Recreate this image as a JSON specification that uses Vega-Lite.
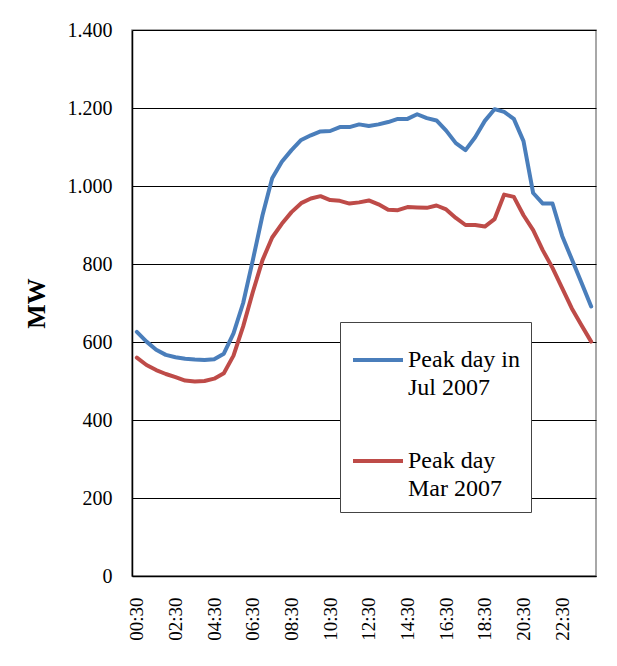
{
  "$schema": "https://vega.github.io/schema/vega-lite/v6.json",
  "autosize": {"type": "none"},
  "width": 464,
  "height": 546,
  "padding": {"left": 132, "top": 30, "right": 21, "bottom": 90},
  "background": "white",
  "config": {
    "view": {"stroke": "#8c8c8c", "strokeWidth": 1.5},
    "font": "Liberation Serif"
  },
  "data": {
    "values": [
      {"t": "00:30", "Peak day in|Jul 2007": 626, "Peak day|Mar 2007": 560},
      {"t": "01:00", "Peak day in|Jul 2007": 601, "Peak day|Mar 2007": 541},
      {"t": "01:30", "Peak day in|Jul 2007": 580, "Peak day|Mar 2007": 528},
      {"t": "02:00", "Peak day in|Jul 2007": 567, "Peak day|Mar 2007": 518},
      {"t": "02:30", "Peak day in|Jul 2007": 561, "Peak day|Mar 2007": 510},
      {"t": "03:00", "Peak day in|Jul 2007": 557, "Peak day|Mar 2007": 501},
      {"t": "03:30", "Peak day in|Jul 2007": 555, "Peak day|Mar 2007": 499},
      {"t": "04:00", "Peak day in|Jul 2007": 554, "Peak day|Mar 2007": 500},
      {"t": "04:30", "Peak day in|Jul 2007": 556, "Peak day|Mar 2007": 506},
      {"t": "05:00", "Peak day in|Jul 2007": 570, "Peak day|Mar 2007": 520},
      {"t": "05:30", "Peak day in|Jul 2007": 622, "Peak day|Mar 2007": 565},
      {"t": "06:00", "Peak day in|Jul 2007": 700, "Peak day|Mar 2007": 640},
      {"t": "06:30", "Peak day in|Jul 2007": 810, "Peak day|Mar 2007": 728},
      {"t": "07:00", "Peak day in|Jul 2007": 925, "Peak day|Mar 2007": 810},
      {"t": "07:30", "Peak day in|Jul 2007": 1020, "Peak day|Mar 2007": 868},
      {"t": "08:00", "Peak day in|Jul 2007": 1062, "Peak day|Mar 2007": 903},
      {"t": "08:30", "Peak day in|Jul 2007": 1092, "Peak day|Mar 2007": 933},
      {"t": "09:00", "Peak day in|Jul 2007": 1118, "Peak day|Mar 2007": 956},
      {"t": "09:30", "Peak day in|Jul 2007": 1130, "Peak day|Mar 2007": 968},
      {"t": "10:00", "Peak day in|Jul 2007": 1140, "Peak day|Mar 2007": 974},
      {"t": "10:30", "Peak day in|Jul 2007": 1141, "Peak day|Mar 2007": 964},
      {"t": "11:00", "Peak day in|Jul 2007": 1151, "Peak day|Mar 2007": 962},
      {"t": "11:30", "Peak day in|Jul 2007": 1151, "Peak day|Mar 2007": 955},
      {"t": "12:00", "Peak day in|Jul 2007": 1158, "Peak day|Mar 2007": 958},
      {"t": "12:30", "Peak day in|Jul 2007": 1154, "Peak day|Mar 2007": 963},
      {"t": "13:00", "Peak day in|Jul 2007": 1158, "Peak day|Mar 2007": 953},
      {"t": "13:30", "Peak day in|Jul 2007": 1164, "Peak day|Mar 2007": 939},
      {"t": "14:00", "Peak day in|Jul 2007": 1172, "Peak day|Mar 2007": 938},
      {"t": "14:30", "Peak day in|Jul 2007": 1172, "Peak day|Mar 2007": 946},
      {"t": "15:00", "Peak day in|Jul 2007": 1184, "Peak day|Mar 2007": 945},
      {"t": "15:30", "Peak day in|Jul 2007": 1174, "Peak day|Mar 2007": 944},
      {"t": "16:00", "Peak day in|Jul 2007": 1168, "Peak day|Mar 2007": 950},
      {"t": "16:30", "Peak day in|Jul 2007": 1142, "Peak day|Mar 2007": 940},
      {"t": "17:00", "Peak day in|Jul 2007": 1110, "Peak day|Mar 2007": 918},
      {"t": "17:30", "Peak day in|Jul 2007": 1092, "Peak day|Mar 2007": 900},
      {"t": "18:00", "Peak day in|Jul 2007": 1125, "Peak day|Mar 2007": 900},
      {"t": "18:30", "Peak day in|Jul 2007": 1167, "Peak day|Mar 2007": 896},
      {"t": "19:00", "Peak day in|Jul 2007": 1197, "Peak day|Mar 2007": 915},
      {"t": "19:30", "Peak day in|Jul 2007": 1190, "Peak day|Mar 2007": 978},
      {"t": "20:00", "Peak day in|Jul 2007": 1172, "Peak day|Mar 2007": 972},
      {"t": "20:30", "Peak day in|Jul 2007": 1115, "Peak day|Mar 2007": 925},
      {"t": "21:00", "Peak day in|Jul 2007": 982, "Peak day|Mar 2007": 887},
      {"t": "21:30", "Peak day in|Jul 2007": 955, "Peak day|Mar 2007": 835},
      {"t": "22:00", "Peak day in|Jul 2007": 955, "Peak day|Mar 2007": 790},
      {"t": "22:30", "Peak day in|Jul 2007": 872, "Peak day|Mar 2007": 738},
      {"t": "23:00", "Peak day in|Jul 2007": 812, "Peak day|Mar 2007": 686},
      {"t": "23:30", "Peak day in|Jul 2007": 752, "Peak day|Mar 2007": 643},
      {"t": "24:00", "Peak day in|Jul 2007": 691, "Peak day|Mar 2007": 601}
    ]
  },
  "transform": [
    {"fold": ["Peak day in|Jul 2007", "Peak day|Mar 2007"], "as": ["series", "mw"]}
  ],
  "mark": {"type": "line", "strokeWidth": 4, "strokeCap": "round", "strokeJoin": "round"},
  "encoding": {
    "x": {
      "field": "t",
      "type": "ordinal",
      "sort": null,
      "scale": {"type": "point", "padding": 0.5},
      "axis": {
        "title": null,
        "values": ["00:30", "02:30", "04:30", "06:30", "08:30", "10:30", "12:30", "14:30", "16:30", "18:30", "20:30", "22:30"],
        "labelAngle": -90,
        "labelFont": "Liberation Serif",
        "labelFontSize": 19,
        "labelColor": "#000000",
        "labelPadding": 21,
        "ticks": false,
        "grid": false,
        "domain": true,
        "domainColor": "#000000",
        "domainWidth": 1.5
      }
    },
    "y": {
      "field": "mw",
      "type": "quantitative",
      "scale": {"domain": [0, 1400], "nice": false},
      "axis": {
        "title": "MW",
        "titleFont": "Liberation Serif",
        "titleFontSize": 26,
        "titleFontWeight": "bold",
        "titleColor": "#000000",
        "titleX": -96,
        "titleBaseline": "middle",
        "titleAlign": "center",
        "values": [0, 200, 400, 600, 800, 1000, 1200, 1400],
        "labelExpr": "replace(format(datum.value, ','), ',', '.')",
        "labelFont": "Liberation Serif",
        "labelFontSize": 20,
        "labelColor": "#000000",
        "labelPadding": 20,
        "ticks": false,
        "grid": true,
        "gridColor": "#000000",
        "gridWidth": 1,
        "gridOpacity": 1,
        "domain": true,
        "domainColor": "#000000",
        "domainWidth": 1.5
      }
    },
    "color": {
      "field": "series",
      "type": "nominal",
      "scale": {"domain": ["Peak day in|Jul 2007", "Peak day|Mar 2007"], "range": ["#4a7ebb", "#be4b48"]},
      "legend": {
        "title": null,
        "orient": "none",
        "legendX": 208,
        "legendY": 292,
        "direction": "vertical",
        "fillColor": "#ffffff",
        "strokeColor": "#444444",
        "padding": 11,
        "symbolType": "stroke",
        "symbolSize": 2500,
        "symbolStrokeWidth": 4,
        "labelExpr": "split(datum.label, '|')",
        "labelFont": "Liberation Serif",
        "labelFontSize": 24,
        "labelColor": "#000000",
        "labelOffset": 3,
        "labelLimit": 300,
        "labelBaseline": "alphabetic",
        "rowPadding": 34,
        "encode": {"labels": {"update": {"dy": {"value": 7}, "lineHeight": {"value": 28}}}}
      }
    }
  }
}
